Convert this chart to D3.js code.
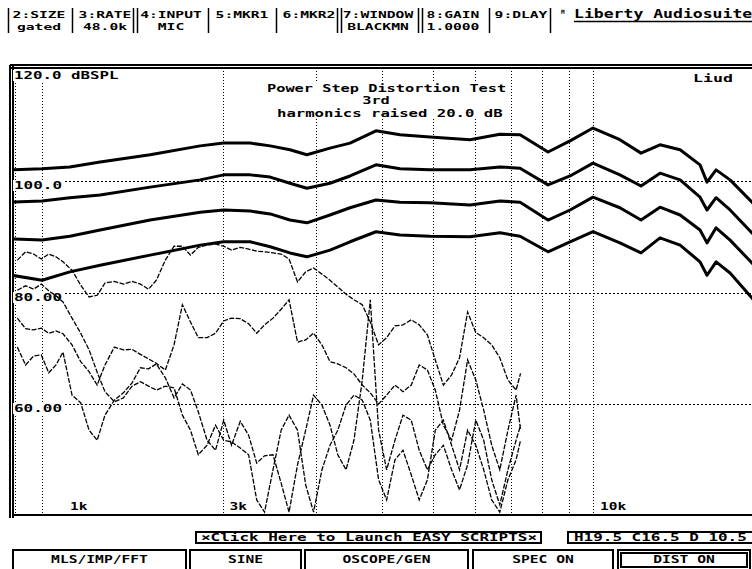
<!DOCTYPE html>
<head>
    <meta charset="utf-8">
    <script src="https://d3js.org/d3.v7.min.js"></script>
    <style>
        body { margin: 0; background: #fff; }
        text {
            font-family: "DejaVu Sans Mono", "Liberation Mono", monospace;
            font-weight: bold;
            font-size: 11px;
            fill: #000;
        }
    </style>
</head>
<body>
    <svg id="my_dataviz" width="752" height="569"></svg>
    <script>

        // fundamental response, one curve per power step (dB SPL)
        var freqs = [800, 913, 1030, 1175, 1460, 1815, 2010, 2255, 2460, 2680, 2885, 3190, 3480, 3895, 4325, 4925,
            5860, 6675, 7285, 8225, 9050, 10000, 11240, 12320, 13380, 14600, 15920, 16410, 17070, 18140, 19950, 21000];
        var step1 = [102.0, 102.2, 102.5, 103.4, 104.7, 106.3, 106.8, 106.8, 106.3, 105.6, 104.7, 105.9, 106.8, 109.0, 108.3, 107.9,
            107.4, 108.4, 108.3, 105.2, 107.2, 109.5, 107.4, 105.0, 106.5, 105.6, 102.9, 99.8, 102.0, 100.2, 96.2, 94.0];
        var step2 = [96.2, 96.4, 97.0, 97.5, 98.9, 100.2, 101.1, 101.1, 100.7, 99.6, 98.7, 99.6, 100.9, 102.9, 102.2, 102.0,
            102.0, 102.5, 102.3, 99.3, 100.9, 103.2, 101.1, 99.1, 101.4, 100.2, 97.1, 94.8, 97.0, 94.8, 90.7, 88.5];
        var step3 = [89.6, 89.4, 90.1, 91.2, 93.0, 94.4, 94.8, 94.6, 94.1, 93.0, 92.5, 93.9, 95.2, 96.6, 96.2, 96.1,
            95.7, 96.4, 96.2, 93.0, 94.8, 97.1, 95.2, 93.0, 95.3, 93.9, 91.2, 88.9, 91.6, 89.4, 85.3, 83.1];
        var step4 = [83.1, 82.2, 83.7, 84.9, 86.7, 88.5, 89.1, 89.1, 88.2, 87.1, 86.4, 87.6, 89.1, 90.9, 90.3, 90.1,
            90.0, 90.7, 90.1, 87.3, 89.1, 90.9, 88.9, 87.1, 89.8, 88.5, 85.5, 83.1, 85.5, 83.5, 79.0, 76.5];

        // 3rd harmonics (raised 20 dB), one per power step
        var harmFreqs = [820, 850, 880, 910, 940, 970, 1000, 1040, 1080, 1120, 1160, 1200, 1250, 1300, 1350, 1400,
            1450, 1500, 1560, 1620, 1680, 1740, 1800, 1870, 1940, 2010, 2080, 2160, 2240, 2320, 2400, 2490,
            2580, 2670, 2770, 2870, 2970, 3080, 3190, 3300, 3420, 3540, 3670, 3800, 3940, 4080, 4230, 4380,
            4540, 4700, 4870, 5040, 5220, 5410, 5600, 5800, 6010, 6220, 6440, 6670, 6910, 7160, 7300];
        var harm1 = [85.8, 87.3, 86.9, 86.0, 86.9, 86.4, 85.5, 84.0, 81.3, 79.2, 79.5, 81.7, 82.0, 81.5, 82.0, 81.5,
            80.6, 82.2, 85.8, 88.3, 88.3, 86.7, 88.1, 88.5, 88.7, 88.3, 87.6, 88.1, 87.8, 87.4, 87.3, 87.1,
            86.9, 86.0, 81.9, 83.7, 84.4, 83.3, 82.2, 81.0, 79.7, 78.7, 77.8, 74.7, 70.6, 71.9, 74.0, 74.2,
            75.1, 74.2, 72.4, 67.9, 63.4, 65.2, 68.3, 76.5, 72.8, 71.9, 70.6, 68.3, 64.3, 62.5, 65.5];
        var harm2 = [75.4, 73.5, 73.3, 73.6, 72.7, 73.1, 72.6, 70.6, 67.6, 65.8, 63.4, 67.0, 70.2, 69.7, 69.8, 68.9,
            68.1, 67.3, 66.1, 70.6, 77.8, 74.7, 71.9, 71.9, 72.7, 74.9, 75.4, 75.3, 74.4, 72.7, 74.2, 75.4,
            77.0, 78.7, 71.1, 71.5, 72.7, 70.6, 67.6, 67.2, 66.5, 65.4, 63.4, 62.0, 60.0, 61.6, 63.4, 62.2,
            63.4, 67.0, 66.1, 62.5, 56.2, 53.5, 58.9, 67.9, 64.3, 58.9, 52.6, 48.2, 55.3, 61.6, 55.3];
        var harm3 = [70.2, 67.0, 68.6, 68.8, 65.6, 67.0, 69.3, 61.6, 60.2, 55.3, 53.5, 58.0, 60.7, 62.0, 63.8, 66.5,
            66.3, 67.2, 64.7, 61.1, 63.6, 62.5, 58.6, 53.5, 51.7, 57.1, 52.6, 56.9, 54.4, 49.4, 50.7, 50.9,
            45.8, 40.6, 49.1, 55.3, 61.6, 59.8, 56.2, 50.9, 48.2, 53.5, 64.3, 78.7, 55.3, 48.2, 53.5, 58.0,
            57.1, 51.7, 48.2, 50.9, 52.6, 48.2, 44.6, 49.1, 57.1, 53.5, 46.4, 41.9, 48.2, 53.5, 56.2];
        var harm4 = [80.4, 81.2, 80.6, 81.5, 80.3, 79.4, 78.3, 75.4, 72.7, 69.7, 65.7, 62.2, 60.4, 61.1, 63.2, 64.0,
            63.2, 62.5, 63.2, 62.9, 58.0, 55.3, 50.9, 52.6, 56.2, 53.5, 53.2, 52.1, 50.9, 42.8, 40.6, 48.2,
            55.3, 58.0, 55.3, 45.5, 40.6, 48.2, 52.6, 55.3, 59.8, 61.6, 60.7, 57.1, 46.4, 42.8, 50.0, 51.7,
            47.3, 42.8, 46.4, 55.3, 57.1, 52.6, 48.2, 55.3, 52.6, 48.2, 42.8, 40.6, 46.4, 50.0, 53.5];

        // axes
        var gridFreqs = [913, 2000, 3000, 4000, 5000, 6000, 7000, 8000, 9000, 10000];
        var gridLevels = [100, 80, 60];
        var levelLabels = ["100.0", "80.00", "60.00"];
        var freqTicks = [1000, 2000, 10000];
        var freqTickLabels = ["1k", "3k", "10k"];

        // screen texts
        var headerTitles = ["2:SIZE", "3:RATE", "4:INPUT", "5:MKR1", "6:MKR2", "7:WINDOW", "8:GAIN", "9:DLAY"];
        var headerValues = ["gated", "48.0k", "MIC", "", "", "BLACKMN", "1.0000", ""];
        var titleLines = ["Power Step Distortion Test", "3rd", "harmonics raised 20.0 dB"];
        var buttonLabels = ["MLS/IMP/FFT", "SINE", "OSCOPE/GEN", "SPEC ON", "DIST ON"];

        // The svg
        var svg = d3.select("svg"),
            width = +svg.attr("width"),
            height = +svg.attr("height");

        // layout (pixels)
        var headerCenters = [39, 105, 171, 242, 309, 378, 453, 521];
        var headerSeps = [8, 72, 133, 137, 208, 276, 337, 341, 418, 422, 489, 550];
        var buttonBoxes = [[13, 186], [190, 301], [305, 468], [473, 613], [618, 750]];
        var plotLeft = 13, plotTop = 68, plotBottom = 515;

        // scales
        var x = d3.scaleLog().domain([1000, 10000]).range([63, 593]);
        var y = d3.scaleLinear().domain([40, 120]).range([515.5, 69.5]);

        // text helper, the screen font is a wide bitmap font
        function txt(g, str, px, py, cw, anchor) {
            var t = g.append("text")
                .attr("x", px)
                .attr("y", py)
                .attr("textLength", str.length * cw)
                .attr("lengthAdjust", "spacingAndGlyphs")
                .text(str);
            if (anchor) t.attr("text-anchor", anchor);
            return t;
        }

        // ---------- header bar
        var header = svg.append("g");
        header.selectAll("line")
            .data(headerSeps)
            .enter().append("line")
            .attr("x1", function (d) { return d + 0.5; })
            .attr("x2", function (d) { return d + 0.5; })
            .attr("y1", 8).attr("y2", 33)
            .style("stroke", "#000").style("stroke-width", 1.5);
        headerTitles.forEach(function (s, i) {
            txt(header, s, headerCenters[i], 18, 8.8, "middle").style("font-size", "9.5px");
            if (headerValues[i]) txt(header, headerValues[i], headerCenters[i], 29.5, 8.8, "middle").style("font-size", "9.5px");
        });
        header.append("text").attr("x", 561).attr("y", 14).style("font-size", "6px").text("M");
        txt(header, "Liberty Audiosuite", 574, 18, 9.9).style("font-size", "12px");
        header.append("line")
            .attr("x1", 574).attr("x2", 752).attr("y1", 21.5).attr("y2", 21.5)
            .style("stroke", "#000").style("stroke-width", 1.5);

        // ---------- plot frame
        var frame = svg.append("g").style("shape-rendering", "crispEdges");
        [65, 68].forEach(function (yy) {
            frame.append("line").attr("x1", 10).attr("x2", width).attr("y1", yy).attr("y2", yy)
                .style("stroke", "#000").style("stroke-width", 1.2);
        });
        [10, 13].forEach(function (xx) {
            frame.append("line").attr("x1", xx).attr("x2", xx).attr("y1", 65).attr("y2", 518)
                .style("stroke", "#000").style("stroke-width", 1.2);
        });
        frame.append("line").attr("x1", 15).attr("x2", 15).attr("y1", plotTop).attr("y2", plotBottom)
            .style("stroke", "#000").style("stroke-dasharray", "1,2");
        frame.append("line").attr("x1", plotLeft).attr("x2", width).attr("y1", plotBottom).attr("y2", plotBottom)
            .style("stroke", "#000").style("stroke-width", 2);

        // dotted grid
        var grid = svg.append("g").style("shape-rendering", "crispEdges");
        grid.selectAll(".vgrid")
            .data(gridFreqs)
            .enter().append("line")
            .attr("x1", function (d) { return Math.round(x(d)) + 0.5; })
            .attr("x2", function (d) { return Math.round(x(d)) + 0.5; })
            .attr("y1", plotTop).attr("y2", plotBottom)
            .style("stroke", "#000").style("stroke-dasharray", "1,2");
        grid.selectAll(".hgrid")
            .data(gridLevels)
            .enter().append("line")
            .attr("x1", plotLeft).attr("x2", width)
            .attr("y1", function (d) { return Math.round(y(d)) + 0.5; })
            .attr("y2", function (d) { return Math.round(y(d)) + 0.5; })
            .style("stroke", "#000").style("stroke-dasharray", "2,2");

        // labels painted with a white background, like the bitmap font
        var labels = svg.append("g");
        function boxed(str, px, py, cw) {
            labels.append("rect").attr("x", px - 1).attr("y", py - 9)
                .attr("width", str.length * cw + 2).attr("height", 11).style("fill", "#fff");
            return txt(labels, str, px, py, cw);
        }
        boxed("120.0 dBSPL", 14, 79, 9.5);
        gridLevels.forEach(function (d, i) {
            boxed(levelLabels[i], 14, Math.round(y(d)) + 8, 9.6);
        });
        freqTicks.forEach(function (d, i) {
            boxed(freqTickLabels[i], x(d) + 7, 510, 8.7);
        });

        // title block
        labels.append("rect").attr("x", 265).attr("y", 83).attr("width", 246).attr("height", 36).style("fill", "#fff");
        txt(labels, titleLines[0], 267, 92, 9.2).style("font-size", "10px");
        txt(labels, titleLines[1], 376, 104, 9.2, "middle").style("font-size", "10px");
        txt(labels, titleLines[2], 277, 117, 9.4).style("font-size", "10px");
        txt(labels, "Liud", 693, 82, 10);

        // ---------- curves
        svg.append("clipPath").attr("id", "plotClip")
            .append("rect").attr("x", plotLeft + 1).attr("y", plotTop).attr("width", width).attr("height", plotBottom - plotTop);
        var curves = svg.append("g").attr("clip-path", "url(#plotClip)");

        var line = d3.line()
            .x(function (d) { return x(d[0]); })
            .y(function (d) { return y(d[1]); });

        [harm1, harm2, harm3, harm4].forEach(function (s) {
            curves.append("path")
                .datum(harmFreqs.map(function (f, i) { return [f, s[i]]; }))
                .attr("d", line)
                .style("fill", "none")
                .style("stroke", "#000")
                .style("stroke-width", 1.3)
                .style("stroke-dasharray", "5,1.5");
        });

        [step1, step2, step3, step4].forEach(function (s) {
            curves.append("path")
                .datum(freqs.map(function (f, i) { return [f, s[i]]; }))
                .attr("d", line)
                .style("fill", "none")
                .style("stroke", "#000")
                .style("stroke-width", 3)
                .style("stroke-linejoin", "round");
        });

        // ---------- bottom controls
        var bottom = svg.append("g").style("shape-rendering", "crispEdges");
        bottom.append("rect").attr("x", 196).attr("y", 532).attr("width", 345).attr("height", 11)
            .style("fill", "#fff").style("stroke", "#000").style("stroke-width", 1.3);
        bottom.append("line").attr("x1", 196).attr("x2", 541).attr("y1", 543).attr("y2", 543)
            .style("stroke", "#000").style("stroke-width", 2);
        txt(bottom, "\u00d7Click Here to Launch EASY SCRIPTS\u00d7", 201, 541, 9.6);

        bottom.append("rect").attr("x", 568).attr("y", 532).attr("width", 200).attr("height", 11)
            .style("fill", "#fff").style("stroke", "#000").style("stroke-width", 2);
        txt(bottom, "H19.5 C16.5 D 10.5", 574, 541, 9.6);

        buttonBoxes.forEach(function (b, i) {
            bottom.append("rect").attr("x", b[0]).attr("y", 550).attr("width", b[1] - b[0]).attr("height", 30)
                .style("fill", "none").style("stroke", "#000").style("stroke-width", 1.5);
            if (i == buttonBoxes.length - 1) {
                bottom.append("rect").attr("x", b[0] + 3).attr("y", 553).attr("width", b[1] - b[0] - 6).attr("height", 14)
                    .style("fill", "none").style("stroke", "#000").style("stroke-width", 1.5);
            }
            txt(bottom, buttonLabels[i], (b[0] + b[1]) / 2, 563, 8.8, "middle");
        });

    </script>
</body>
